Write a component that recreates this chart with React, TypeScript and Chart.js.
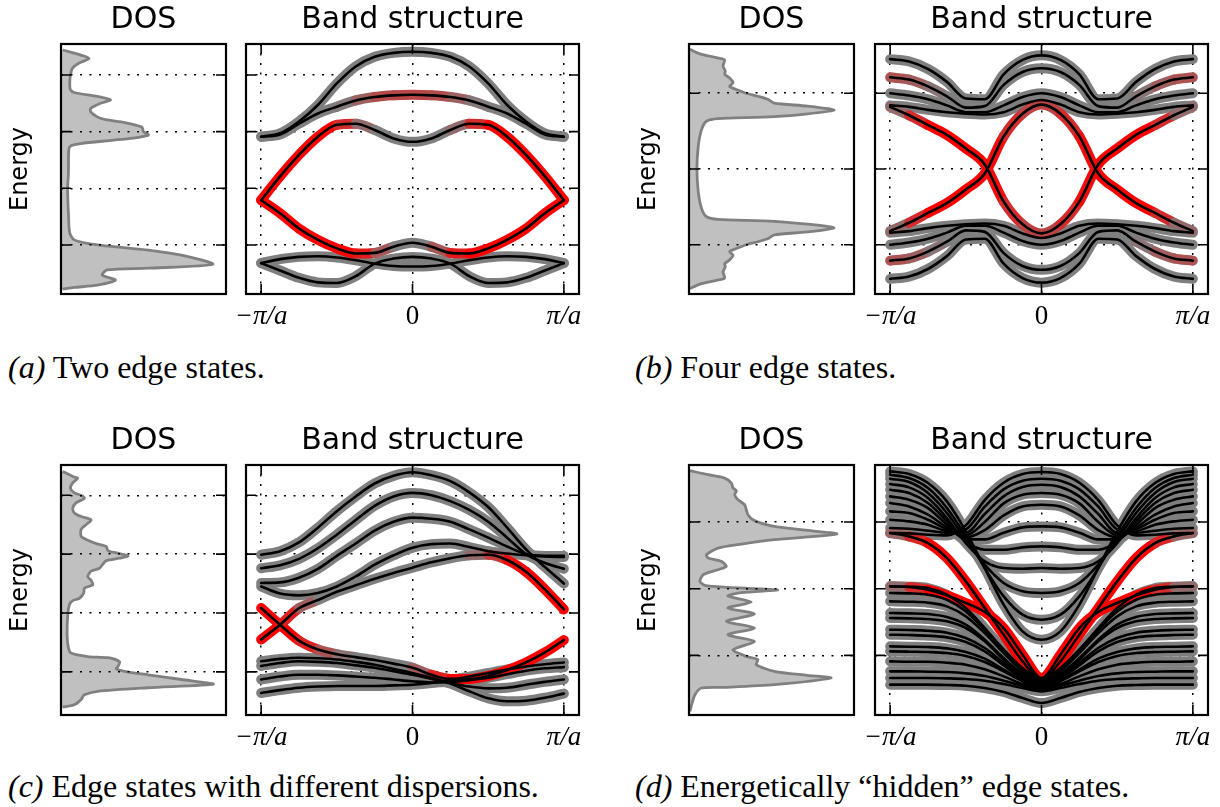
import React, { useEffect, useRef } from 'react';
import { Chart, registerables } from 'chart.js';

Chart.register(...registerables);
Chart.defaults.font.family = 'DejaVu Sans';
Chart.defaults.color = '#000';

// ---------------- shared axis data ----------------
const K = [-1, -0.875, -0.75, -0.625, -0.5, -0.375, -0.25, -0.125, 0, 0.125, 0.25, 0.375, 0.5, 0.625, 0.75, 0.875, 1];
const K_TICKS = [-1, 0, 1];
const K_LABELS = ['−π/a', '0', 'π/a'];
const TITLE_DOS = 'DOS';
const TITLE_BAND = 'Band structure';
const Y_LABEL = 'Energy';

// ---------------- panel (a) ----------------
const A_GRID = [-1, 0, 1, 2];
const A_RANGE = [-1.865, 2.546];
const A_B1 = [0.91, 0.97, 1.18, 1.47, 1.85, 2.15, 2.32, 2.39, 2.41, 2.39, 2.32, 2.15, 1.85, 1.47, 1.18, 0.97, 0.91];
const A_B2 = [0.91, 0.95, 1.14, 1.32, 1.44, 1.55, 1.61, 1.64, 1.65, 1.64, 1.61, 1.55, 1.44, 1.32, 1.14, 0.95, 0.91];
const A_B2_W = [0, 0, 0, 0, 0, 0.1, 0.35, 0.45, 0.45, 0.45, 0.35, 0.1, 0, 0, 0, 0, 0];
const A_B3 = [-0.21, 0.21, 0.59, 0.91, 1.12, 1.14, 1.03, 0.88, 0.82, 0.88, 1.03, 1.14, 1.12, 0.91, 0.59, 0.21, -0.21];
const A_B3_W = [1, 1, 1, 1, 1, 0.3, 0, 0, 0, 0, 0, 0.3, 1, 1, 1, 1, 1];
const A_B4 = [-0.21, -0.44, -0.71, -0.91, -1.06, -1.15, -1.14, -1.03, -0.96, -1.03, -1.14, -1.15, -1.06, -0.91, -0.71, -0.44, -0.21];
const A_B4_W = [1, 1, 1, 1, 1, 1, 0.6, 0, 0, 0, 0.6, 1, 1, 1, 1, 1, 1];
const A_B5 = [-1.32, -1.25, -1.21, -1.2, -1.22, -1.27, -1.33, -1.37, -1.38, -1.37, -1.33, -1.27, -1.22, -1.2, -1.21, -1.25, -1.32];
const A_B6 = [-1.32, -1.45, -1.58, -1.66, -1.67, -1.55, -1.33, -1.24, -1.21, -1.24, -1.33, -1.55, -1.67, -1.66, -1.58, -1.45, -1.32];
const DOS_A: [number, number][] = [
  [2.44, 0.01], [2.35, 0.12], [2.29, 0.17], [2.21, 0.11], [2.12, 0.07], [2.0, 0.057], [1.85, 0.053], [1.74, 0.057],
  [1.69, 0.08], [1.62, 0.22], [1.56, 0.3], [1.5, 0.24], [1.41, 0.18], [1.35, 0.18], [1.26, 0.22], [1.21, 0.27],
  [1.16, 0.385], [1.08, 0.49], [1.0, 0.5], [0.94, 0.53], [0.9, 0.47], [0.85, 0.32], [0.79, 0.12], [0.75, 0.06],
  [0.68, 0.047], [0.26, 0.045], [0, 0.04], [-0.44, 0.045], [-0.79, 0.053], [-0.91, 0.08], [-0.97, 0.16], [-1.03, 0.32],
  [-1.09, 0.53], [-1.18, 0.73], [-1.34, 0.92], [-1.41, 0.53], [-1.44, 0.28], [-1.53, 0.25], [-1.62, 0.33], [-1.71, 0.22],
  [-1.75, 0.08], [-1.78, 0.01],
];
const CAPTION_A = ['(a)', 'Two edge states.'];

// ---------------- panel (b) ----------------
const B_GRID = [-1, 0, 1];
const B_RANGE = [-1.65, 1.65];
const B_U1 = [1.45, 1.42, 1.32, 1.15, 0.93, 0.92, 1.25, 1.44, 1.5, 1.44, 1.25, 0.92, 0.93, 1.15, 1.32, 1.42, 1.45];
const B_U2 = [1.21, 1.18, 1.09, 0.96, 0.81, 0.83, 1.11, 1.28, 1.33, 1.28, 1.11, 0.83, 0.81, 0.96, 1.09, 1.18, 1.21];
const B_U3 = [1.0, 0.97, 0.92, 0.84, 0.75, 0.75, 0.84, 0.95, 1.0, 0.95, 0.84, 0.75, 0.75, 0.84, 0.92, 0.97, 1.0];
const B_U4 = [0.84, 0.82, 0.78, 0.75, 0.73, 0.72, 0.75, 0.85, 0.91, 0.85, 0.75, 0.72, 0.73, 0.75, 0.78, 0.82, 0.84];
const B_L1 = [-1.45, -1.42, -1.32, -1.15, -0.93, -0.92, -1.25, -1.44, -1.5, -1.44, -1.25, -0.92, -0.93, -1.15, -1.32, -1.42, -1.45];
const B_L2 = [-1.21, -1.18, -1.09, -0.96, -0.81, -0.83, -1.11, -1.28, -1.33, -1.28, -1.11, -0.83, -0.81, -0.96, -1.09, -1.18, -1.21];
const B_L3 = [-1.0, -0.97, -0.92, -0.84, -0.75, -0.75, -0.84, -0.95, -1.0, -0.95, -0.84, -0.75, -0.75, -0.84, -0.92, -0.97, -1.0];
const B_L4 = [-0.84, -0.82, -0.78, -0.75, -0.73, -0.72, -0.75, -0.85, -0.91, -0.85, -0.75, -0.72, -0.73, -0.75, -0.78, -0.82, -0.84];
const B_2_W = [0.35, 0.35, 0.15, 0, 0, 0, 0, 0, 0, 0, 0, 0, 0, 0, 0.15, 0.35, 0.35];
const B_EA = [-0.82, -0.71, -0.58, -0.45, -0.27, -0.06, 0.43, 0.73, 0.85, 0.73, 0.43, -0.06, -0.27, -0.45, -0.58, -0.71, -0.82];
const B_EB = [0.82, 0.71, 0.58, 0.45, 0.27, 0.06, -0.43, -0.73, -0.85, -0.73, -0.43, 0.06, 0.27, 0.45, 0.58, 0.71, 0.82];
const B_E_W = [0, 0.3, 1, 1, 1, 1, 0.8, 0.5, 0.45, 0.5, 0.8, 1, 1, 1, 1, 0.3, 0];
const DOS_B: [number, number][] = [
  [1.58, 0.006], [1.52, 0.066], [1.47, 0.166], [1.44, 0.216], [1.36, 0.206], [1.29, 0.22], [1.25, 0.216], [1.2, 0.246],
  [1.14, 0.267], [1.09, 0.246], [1.05, 0.287], [1.0, 0.347], [0.96, 0.417], [0.92, 0.477], [0.87, 0.517], [0.83, 0.717],
  [0.775, 0.878], [0.69, 0.517], [0.665, 0.176], [0.63, 0.106], [0.52, 0.076], [0.3, 0.056], [0, 0.048], [-0.3, 0.056],
  [-0.52, 0.076], [-0.63, 0.106], [-0.665, 0.176], [-0.69, 0.517], [-0.775, 0.878], [-0.83, 0.717], [-0.87, 0.517],
  [-0.92, 0.477], [-0.96, 0.417], [-1.0, 0.347], [-1.05, 0.287], [-1.09, 0.246], [-1.14, 0.267], [-1.2, 0.246],
  [-1.25, 0.216], [-1.29, 0.22], [-1.36, 0.206], [-1.44, 0.216], [-1.47, 0.166], [-1.52, 0.066], [-1.58, 0.006],
];
const CAPTION_B = ['(b)', 'Four edge states.'];

// ---------------- panel (c) ----------------
const C_GRID = [-1, 0, 1, 2];
const C_RANGE = [-1.733, 2.514];
const C_U1 = [0.99, 1.05, 1.2, 1.45, 1.73, 1.98, 2.2, 2.33, 2.39, 2.34, 2.24, 2.05, 1.8, 1.45, 1.08, 0.78, 0.5];
const C_U2 = [0.76, 0.81, 0.92, 1.1, 1.33, 1.58, 1.82, 1.98, 2.04, 2.0, 1.9, 1.75, 1.55, 1.28, 1.0, 0.85, 0.75];
const C_U3 = [0.51, 0.52, 0.6, 0.75, 0.97, 1.18, 1.4, 1.55, 1.62, 1.6, 1.55, 1.42, 1.28, 1.13, 1.0, 0.97, 0.97];
const C_U4 = [0.45, 0.33, 0.3, 0.34, 0.45, 0.62, 0.82, 0.98, 1.11, 1.17, 1.18, 1.12, 1.05, 1.01, 0.98, 0.96, 0.95];
const C_EU = [-0.45, -0.2, 0.08, 0.22, 0.36, 0.47, 0.58, 0.68, 0.77, 0.86, 0.93, 0.98, 0.99, 0.9, 0.7, 0.4, 0.06];
const C_EU_W = [1, 1, 0.5, 0, 0, 0, 0, 0, 0, 0, 0, 0, 0.3, 0.8, 1, 1, 1];
const C_EL = [0.085, -0.2, -0.47, -0.62, -0.7, -0.75, -0.8, -0.86, -0.93, -1.05, -1.12, -1.12, -1.07, -0.97, -0.84, -0.67, -0.46];
const C_EL_W = [1, 1, 1, 0.5, 0.2, 0, 0, 0, 0, 0.5, 1, 1, 1, 1, 1, 1, 1];
const C_L1 = [-0.82, -0.78, -0.76, -0.77, -0.79, -0.83, -0.88, -0.95, -1.02, -1.1, -1.2, -1.33, -1.45, -1.5, -1.49, -1.44, -1.37];
const C_L2 = [-0.9, -0.85, -0.82, -0.83, -0.85, -0.89, -0.93, -0.99, -1.05, -1.12, -1.19, -1.25, -1.28, -1.27, -1.22, -1.17, -1.13];
const C_L3 = [-1.13, -1.08, -1.05, -1.05, -1.06, -1.08, -1.1, -1.13, -1.16, -1.18, -1.17, -1.14, -1.1, -1.04, -0.98, -0.94, -0.92];
const C_L4 = [-1.36, -1.31, -1.27, -1.25, -1.24, -1.24, -1.24, -1.23, -1.22, -1.19, -1.14, -1.08, -1.02, -0.96, -0.91, -0.87, -0.84];
const DOS_C: [number, number][] = [
  [2.405, 0.01], [2.32, 0.071], [2.29, 0.101], [2.21, 0.071], [2.12, 0.057], [2.04, 0.081], [2.0, 0.122], [1.95, 0.142],
  [1.87, 0.091], [1.78, 0.071], [1.7, 0.081], [1.64, 0.122], [1.58, 0.183], [1.5, 0.152], [1.42, 0.122], [1.3, 0.122],
  [1.25, 0.152], [1.17, 0.223], [1.13, 0.274], [1.06, 0.284], [1.02, 0.335], [0.97, 0.406], [0.93, 0.355], [0.89, 0.274],
  [0.83, 0.254], [0.76, 0.233], [0.71, 0.183], [0.62, 0.162], [0.55, 0.183], [0.48, 0.193], [0.42, 0.142], [0.34, 0.138],
  [0.25, 0.112], [0.21, 0.071], [0.14, 0.051], [-0.03, 0.041], [-0.37, 0.037], [-0.59, 0.045], [-0.68, 0.061],
  [-0.74, 0.162], [-0.76, 0.284], [-0.83, 0.355], [-0.91, 0.345], [-0.95, 0.335], [-0.99, 0.385], [-1.05, 0.527],
  [-1.13, 0.73], [-1.21, 0.923], [-1.27, 0.527], [-1.33, 0.223], [-1.39, 0.142], [-1.47, 0.122], [-1.56, 0.081], [-1.6, 0.01],
];
const CAPTION_C = ['(c)', 'Edge states with different dispersions.'];

// ---------------- panel (d) ----------------
const D_GRID = [-1, 0, 1];
const D_RANGE = [-1.895, 1.856];
const D_P1 = [1.76, 1.72, 1.585, 1.31, 0.86, 0.31, -0.24, -0.64, -0.765, -0.64, -0.24, 0.31, 0.86, 1.31, 1.585, 1.72, 1.76];
const D_P2 = [1.71, 1.66, 1.51, 1.21, 0.785, 0.31, -0.115, -0.39, -0.465, -0.39, -0.115, 0.31, 0.785, 1.21, 1.51, 1.66, 1.71];
const D_P3 = [1.65, 1.6, 1.435, 1.135, 0.735, 0.36, 0.085, -0.04, -0.065, -0.04, 0.085, 0.36, 0.735, 1.135, 1.435, 1.6, 1.65];
const D_P4 = [1.57, 1.52, 1.36, 1.06, 0.685, 0.41, 0.31, 0.3, 0.31, 0.3, 0.31, 0.41, 0.685, 1.06, 1.36, 1.52, 1.57];
const D_P5 = [1.485, 1.435, 1.285, 1.01, 0.71, 0.585, 0.585, 0.62, 0.635, 0.62, 0.585, 0.585, 0.71, 1.01, 1.285, 1.435, 1.485];
const D_Q1 = [1.385, 1.335, 1.21, 0.96, 0.74, 0.74, 0.84, 0.92, 0.935, 0.92, 0.84, 0.74, 0.74, 0.96, 1.21, 1.335, 1.385];
const D_Q2 = [1.285, 1.235, 1.11, 0.92, 0.77, 0.88, 1.1, 1.235, 1.26, 1.235, 1.1, 0.88, 0.77, 0.92, 1.11, 1.235, 1.285];
const D_Q3 = [1.16, 1.135, 1.035, 0.89, 0.8, 1.0, 1.28, 1.41, 1.435, 1.41, 1.28, 1.0, 0.8, 0.89, 1.035, 1.135, 1.16];
const D_Q4 = [1.035, 1.01, 0.96, 0.86, 0.84, 1.12, 1.385, 1.525, 1.56, 1.525, 1.385, 1.12, 0.84, 0.86, 0.96, 1.01, 1.035];
const D_Q5 = [0.91, 0.9, 0.87, 0.84, 0.89, 1.23, 1.49, 1.62, 1.65, 1.62, 1.49, 1.23, 0.89, 0.84, 0.87, 0.9, 0.91];
const D_Q6 = [0.835, 0.83, 0.81, 0.8, 0.95, 1.33, 1.59, 1.72, 1.75, 1.72, 1.59, 1.33, 0.95, 0.8, 0.81, 0.83, 0.835];
const D_E1 = [0.835, 0.785, 0.685, 0.46, 0.11, -0.29, -0.69, -1.09, -1.365, -1.09, -0.69, -0.29, 0.11, 0.46, 0.685, 0.785, 0.835];
const D_E1_W = [0, 0.4, 1, 1, 1, 1, 1, 1, 1, 1, 1, 1, 1, 1, 1, 0.4, 0];
const D_E2 = [0.035, 0.025, -0.015, -0.1, -0.215, -0.35, -0.59, -0.99, -1.34, -0.99, -0.59, -0.35, -0.215, -0.1, -0.015, 0.025, 0.035];
const D_E2_W = [0, 0.3, 1, 1, 1, 1, 1, 1, 1, 1, 1, 1, 1, 1, 1, 0.3, 0];
const D_R1 = [0.035, 0.03, 0.01, -0.09, -0.29, -0.59, -0.915, -1.19, -1.35, -1.19, -0.915, -0.59, -0.29, -0.09, 0.01, 0.03, 0.035];
const D_R2 = [-0.065, -0.07, -0.09, -0.165, -0.34, -0.615, -0.915, -1.2, -1.38, -1.2, -0.915, -0.615, -0.34, -0.165, -0.09, -0.07, -0.065];
const D_R3 = [-0.19, -0.195, -0.21, -0.265, -0.415, -0.665, -0.965, -1.24, -1.4, -1.24, -0.965, -0.665, -0.415, -0.265, -0.21, -0.195, -0.19];
const D_R4 = [-0.365, -0.37, -0.38, -0.425, -0.54, -0.765, -1.04, -1.28, -1.42, -1.28, -1.04, -0.765, -0.54, -0.425, -0.38, -0.37, -0.365];
const D_R5 = [-0.44, -0.445, -0.455, -0.49, -0.59, -0.79, -1.065, -1.3, -1.44, -1.3, -1.065, -0.79, -0.59, -0.49, -0.455, -0.445, -0.44];
const D_R6 = [-0.615, -0.62, -0.63, -0.66, -0.74, -0.89, -1.115, -1.33, -1.46, -1.33, -1.115, -0.89, -0.74, -0.66, -0.63, -0.62, -0.615];
const D_R7 = [-0.69, -0.695, -0.705, -0.73, -0.8, -0.94, -1.15, -1.35, -1.48, -1.35, -1.15, -0.94, -0.8, -0.73, -0.705, -0.695, -0.69];
const D_R8 = [-0.865, -0.87, -0.875, -0.895, -0.95, -1.05, -1.215, -1.38, -1.49, -1.38, -1.215, -1.05, -0.95, -0.895, -0.875, -0.87, -0.865];
const D_R9 = [-0.94, -0.945, -0.95, -0.965, -1.01, -1.1, -1.24, -1.39, -1.505, -1.39, -1.24, -1.1, -1.01, -0.965, -0.95, -0.945, -0.94];
const D_R10 = [-1.09, -1.095, -1.095, -1.11, -1.14, -1.21, -1.315, -1.43, -1.515, -1.43, -1.315, -1.21, -1.14, -1.11, -1.095, -1.095, -1.09];
const D_R11 = [-1.24, -1.24, -1.245, -1.25, -1.27, -1.31, -1.38, -1.46, -1.53, -1.46, -1.38, -1.31, -1.27, -1.25, -1.245, -1.24, -1.24];
const D_R12 = [-1.34, -1.34, -1.34, -1.345, -1.355, -1.38, -1.43, -1.49, -1.54, -1.49, -1.43, -1.38, -1.355, -1.345, -1.34, -1.34, -1.34];
const D_R13 = [-1.44, -1.44, -1.44, -1.445, -1.455, -1.49, -1.55, -1.64, -1.715, -1.64, -1.55, -1.49, -1.455, -1.445, -1.44, -1.44, -1.44];
const DOS_D: [number, number][] = [
  [1.77, 0.006], [1.71, 0.116], [1.66, 0.216], [1.585, 0.257], [1.51, 0.267], [1.47, 0.287], [1.41, 0.277], [1.335, 0.297],
  [1.26, 0.337], [1.185, 0.347], [1.11, 0.357], [1.035, 0.387], [0.985, 0.437], [0.935, 0.517], [0.885, 0.677], [0.82, 0.896],
  [0.735, 0.517], [0.67, 0.317], [0.61, 0.176], [0.51, 0.106], [0.46, 0.116], [0.41, 0.196], [0.335, 0.226], [0.285, 0.176],
  [0.21, 0.086], [0.11, 0.066], [0.05, 0.096], [0.02, 0.236], [0, 0.397], [-0.02, 0.537], [-0.06, 0.317], [-0.11, 0.236],
  [-0.2, 0.377], [-0.29, 0.236], [-0.38, 0.397], [-0.49, 0.226], [-0.59, 0.397], [-0.69, 0.236], [-0.79, 0.397],
  [-0.915, 0.267], [-1.015, 0.347], [-1.065, 0.417], [-1.14, 0.407], [-1.24, 0.517], [-1.3, 0.717], [-1.34, 0.86],
  [-1.44, 0.517], [-1.48, 0.216], [-1.49, 0.076], [-1.59, 0.036], [-1.74, 0.016], [-1.84, 0.006],
];
const CAPTION_D = ['(d)', 'Energetically “hidden” edge states.'];

// ---------------- panel assembly ----------------
type BandSpec = { e: number[]; w?: number[] };
type PanelSpec = { grid: number[]; range: number[]; dos: [number, number][]; bands: BandSpec[]; caption: string[] };

const PANELS: PanelSpec[] = [
  {
    grid: A_GRID, range: A_RANGE, dos: DOS_A, caption: CAPTION_A,
    bands: [{ e: A_B1 }, { e: A_B2, w: A_B2_W }, { e: A_B3, w: A_B3_W }, { e: A_B4, w: A_B4_W }, { e: A_B5 }, { e: A_B6 }],
  },
  {
    grid: B_GRID, range: B_RANGE, dos: DOS_B, caption: CAPTION_B,
    bands: [
      { e: B_U1 }, { e: B_U2, w: B_2_W }, { e: B_U3 }, { e: B_U4 },
      { e: B_L1 }, { e: B_L2, w: B_2_W }, { e: B_L3 }, { e: B_L4 },
      { e: B_EA, w: B_E_W }, { e: B_EB, w: B_E_W },
    ],
  },
  {
    grid: C_GRID, range: C_RANGE, dos: DOS_C, caption: CAPTION_C,
    bands: [
      { e: C_U1 }, { e: C_U2 }, { e: C_U3 }, { e: C_U4 }, { e: C_EU, w: C_EU_W }, { e: C_EL, w: C_EL_W },
      { e: C_L1 }, { e: C_L2 }, { e: C_L3 }, { e: C_L4 },
    ],
  },
  {
    grid: D_GRID, range: D_RANGE, dos: DOS_D, caption: CAPTION_D,
    bands: [
      { e: D_P1 }, { e: D_P2 }, { e: D_P3 }, { e: D_P4 }, { e: D_P5 },
      { e: D_Q1 }, { e: D_Q2 }, { e: D_Q3 }, { e: D_Q4 }, { e: D_Q5 }, { e: D_Q6 },
      { e: D_R1 }, { e: D_R2 }, { e: D_R3 }, { e: D_R4 }, { e: D_R5 }, { e: D_R6 }, { e: D_R7 },
      { e: D_R8 }, { e: D_R9 }, { e: D_R10 }, { e: D_R11 }, { e: D_R12 }, { e: D_R13 },
      { e: D_E1, w: D_E1_W }, { e: D_E2, w: D_E2_W },
    ],
  },
];

// ---------------- layout (pixels) ----------------
const LAYOUT = [
  { dosL: 61, bandL: 246, top: 44, capX: 8, capY: 353 },
  { dosL: 689, bandL: 875, top: 44, capX: 635, capY: 353 },
  { dosL: 61, bandL: 246, top: 465, capX: 8, capY: 772 },
  { dosL: 689, bandL: 875, top: 465, capX: 635, capY: 772 },
];
const DOS_W = 165;
const BAND_W = 333;
const BOX_H = 250;
const TITLE_H = 41;
const XAXIS_H = 50;
const PADX = 45;
const DOS_AXIS_W = 61;
const PAD_SMALL = 4;

const GRID_DASH = [2, 7.5];
const HALO = 10;
const CORE = 2.6;

function haloColor(w: number) {
  const r = Math.round(127 + 128 * w);
  const g = Math.round(127 * (1 - w));
  return `rgb(${r},${g},${g})`;
}

function makeFrame(xTicks: boolean) {
  return {
    id: 'frame',
    afterDraw(chart: any) {
      const { ctx, chartArea: a, scales } = chart;
      const TL = 10;
      ctx.save();
      ctx.strokeStyle = '#000';
      ctx.lineWidth = 1.6;
      ctx.beginPath();
      for (const t of scales.y.ticks) {
        const y = scales.y.getPixelForValue(t.value);
        ctx.moveTo(a.left, y); ctx.lineTo(a.left + TL, y);
        ctx.moveTo(a.right, y); ctx.lineTo(a.right - TL, y);
      }
      if (xTicks) {
        for (const t of scales.x.ticks) {
          const x = scales.x.getPixelForValue(t.value);
          ctx.moveTo(x, a.bottom); ctx.lineTo(x, a.bottom - TL);
          ctx.moveTo(x, a.top); ctx.lineTo(x, a.top + TL);
        }
      }
      ctx.stroke();
      ctx.lineWidth = 2.2;
      ctx.strokeRect(a.left, a.top, a.right - a.left, a.bottom - a.top);
      ctx.restore();
    },
  };
}

function titleOpts(text: string) {
  return {
    display: true, text, color: '#000', fullSize: false,
    font: { family: 'DejaVu Sans', size: 30, lineHeight: '35px', weight: 'normal' },
    padding: { top: 0, bottom: 6 },
  };
}

function yScale(p: PanelSpec, width: number, extra: any) {
  return {
    type: 'linear', position: 'left', min: p.range[0], max: p.range[1],
    afterBuildTicks: (s: any) => { s.ticks = p.grid.map((v) => ({ value: v })); },
    afterFit: (s: any) => { s.width = width; },
    ticks: { display: false },
    grid: { color: '#000', lineWidth: 1.5, drawTicks: false, z: extra.gridZ },
    border: { display: false, dash: GRID_DASH },
    title: extra.title,
  };
}

function dosConfig(p: PanelSpec): any {
  return {
    type: 'line',
    data: {
      datasets: [{
        data: p.dos.map(([e, d]) => ({ x: d, y: e })),
        borderColor: '#808080', borderWidth: 2.8, backgroundColor: '#c0c0c0',
        fill: 'origin', pointRadius: 0, tension: 0.25,
      }],
    },
    options: {
      indexAxis: 'y', animation: false, responsive: false, devicePixelRatio: 1, events: [],
      layout: { padding: { left: 0, right: PAD_SMALL, top: 0, bottom: PAD_SMALL }, autoPadding: false },
      plugins: { legend: { display: false }, tooltip: { enabled: false }, title: titleOpts(TITLE_DOS) },
      scales: {
        x: { type: 'linear', min: 0, max: 1, display: false },
        y: yScale(p, DOS_AXIS_W, {
          gridZ: 1,
          title: {
            display: true, text: Y_LABEL, color: '#000',
            font: { family: 'DejaVu Sans', size: 24, weight: 'normal' },
            padding: { top: 6.6, bottom: 0 },
          },
        }),
      },
    },
    plugins: [makeFrame(false)],
  };
}

function bandConfig(p: PanelSpec): any {
  const halos = p.bands.map((b) => ({
    data: K.map((k, i) => ({ x: k, y: b.e[i] })),
    borderColor: haloColor(0), borderWidth: HALO, borderCapStyle: 'round', borderJoinStyle: 'round',
    pointRadius: 0, cubicInterpolationMode: 'monotone', order: b.w ? 2 : 3,
    segment: b.w ? { borderColor: (c: any) => haloColor((b.w![c.p0DataIndex] + b.w![c.p1DataIndex]) / 2) } : undefined,
  }));
  const cores = p.bands.map((b) => ({
    data: K.map((k, i) => ({ x: k, y: b.e[i] })),
    borderColor: '#000', borderWidth: CORE, borderCapStyle: 'round', borderJoinStyle: 'round',
    pointRadius: 0, cubicInterpolationMode: 'monotone', order: 1,
  }));
  return {
    type: 'line',
    data: { datasets: [...cores, ...halos] },
    options: {
      animation: false, responsive: false, devicePixelRatio: 1, events: [],
      layout: { padding: { left: PADX, right: PADX, top: 0, bottom: 0 }, autoPadding: false },
      plugins: { legend: { display: false }, tooltip: { enabled: false }, title: titleOpts(TITLE_BAND) },
      scales: {
        x: {
          type: 'linear', min: -1.1, max: 1.1,
          afterBuildTicks: (s: any) => { s.ticks = K_TICKS.map((v) => ({ value: v })); },
          afterFit: (s: any) => { s.height = XAXIS_H; },
          ticks: {
            callback: (v: number) => K_LABELS[K_TICKS.indexOf(v)],
            color: '#000', padding: 7, maxRotation: 0, autoSkip: false,
            font: (ctx: any) => ({
              family: 'Liberation Serif', size: 27,
              style: ctx.tick && ctx.tick.value === 0 ? 'normal' : 'italic',
            }),
          },
          grid: { color: '#000', lineWidth: 1.5, drawTicks: false },
          border: { display: false, dash: GRID_DASH },
        },
        y: yScale(p, 0, { gridZ: 0, title: { display: false } }),
      },
    },
    plugins: [makeFrame(true)],
  };
}

function ChartCanvas(props: { make: () => any; left: number; top: number; width: number; height: number }) {
  const ref = useRef<HTMLCanvasElement>(null);
  useEffect(() => {
    const chart = new Chart(ref.current as HTMLCanvasElement, props.make());
    return () => chart.destroy();
  }, []);
  return (
    <canvas
      ref={ref}
      width={props.width}
      height={props.height}
      style={{ position: 'absolute', left: props.left, top: props.top, width: props.width, height: props.height }}
    />
  );
}

export default function App() {
  return (
    <div style={{ position: 'absolute', left: 0, top: 0, width: 1220, height: 807, overflow: 'hidden', background: '#fff' }}>
      {PANELS.map((p, i) => {
        const L = LAYOUT[i];
        return (
          <React.Fragment key={i}>
            <ChartCanvas
              make={() => dosConfig(p)}
              left={L.dosL - DOS_AXIS_W}
              top={L.top - TITLE_H}
              width={DOS_AXIS_W + DOS_W + PAD_SMALL}
              height={TITLE_H + BOX_H + PAD_SMALL}
            />
            <ChartCanvas
              make={() => bandConfig(p)}
              left={L.bandL - PADX}
              top={L.top - TITLE_H}
              width={BAND_W + 2 * PADX}
              height={TITLE_H + BOX_H + XAXIS_H}
            />
            <div
              style={{
                position: 'absolute', left: L.capX, top: L.capY - 1, whiteSpace: 'nowrap',
                font: '32px "Liberation Serif"', lineHeight: '30px', color: '#000',
              }}
            >
              <i>{p.caption[0]}</i> {p.caption[1]}
            </div>
          </React.Fragment>
        );
      })}
    </div>
  );
}
